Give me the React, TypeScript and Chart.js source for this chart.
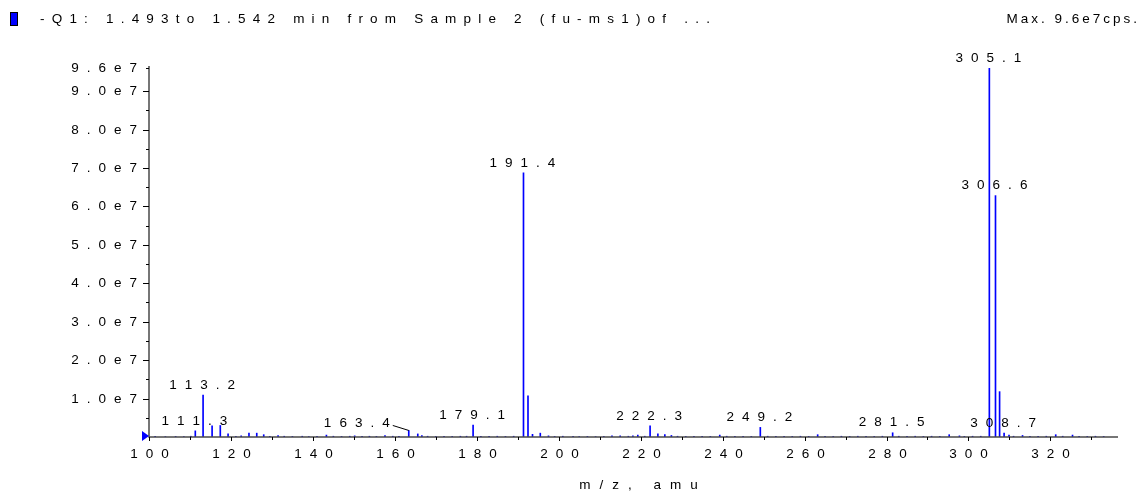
import React, { useEffect, useRef } from "react";
import { Chart, registerables } from "chart.js";

Chart.register(...registerables);

// ---- Data ----
const titleText = "-Q1: 1.493to 1.542 min from Sample 2 (fu-ms1)of ...";
const maxText = "Max. 9.6e7cps.";
const xAxisTitle = "m/z, amu";

// Peak m/z values and intensities (cps)
const peakMz = [
  101.5, 104.0, 106.5, 108.5, 110.2, 111.3, 113.2, 115.4, 117.4, 119.3,
  121.2, 122.5, 124.4, 126.3, 128.0, 129.5, 131.5, 133.0, 135.0, 137.4,
  139.0, 141.0, 143.3, 145.0, 147.0, 149.0, 150.2, 152.0, 153.8, 155.5,
  157.6, 159.5, 161.0, 163.4, 165.6, 166.6, 168.0, 170.0, 172.0, 174.0,
  176.0, 177.5, 179.1, 181.0, 183.0, 185.0, 187.0, 189.0, 191.4, 192.5,
  193.6, 195.5, 197.5, 199.0, 201.0, 203.5, 205.0, 207.0, 209.0, 211.0,
  213.0, 215.0, 217.0, 218.1, 219.3, 221.0, 222.3, 224.2, 225.9, 227.5,
  229.0, 231.0, 233.0, 235.0, 237.0, 239.3, 241.0, 243.0, 245.0, 247.0,
  249.2, 251.0, 253.0, 255.0, 257.0, 259.0, 261.0, 263.2, 265.0, 267.0,
  269.0, 271.0, 273.0, 275.0, 277.0, 279.0, 281.5, 283.0, 285.0, 287.0,
  289.0, 291.0, 293.0, 295.3, 297.8, 299.0, 301.0, 303.0, 305.1, 306.6,
  307.6, 308.7, 309.9, 311.0, 313.2, 315.0, 317.0, 319.0, 321.3, 323.0,
  325.4, 327.0, 329.0, 331.0, 333.0,
];
const peakIntensity = [
  0.02e7, 0.01e7, 0.015e7, 0.01e7, 0.02e7, 0.16e7, 1.09e7, 0.29e7, 0.30e7, 0.08e7,
  0.02e7, 0.03e7, 0.10e7, 0.10e7, 0.06e7, 0.02e7, 0.04e7, 0.02e7, 0.015e7, 0.02e7,
  0.01e7, 0.015e7, 0.05e7, 0.02e7, 0.015e7, 0.02e7, 0.03e7, 0.015e7, 0.02e7, 0.015e7,
  0.04e7, 0.02e7, 0.015e7, 0.17e7, 0.08e7, 0.04e7, 0.02e7, 0.015e7, 0.02e7, 0.015e7,
  0.02e7, 0.02e7, 0.31e7, 0.015e7, 0.02e7, 0.02e7, 0.015e7, 0.02e7, 6.87e7, 1.07e7,
  0.07e7, 0.10e7, 0.03e7, 0.015e7, 0.02e7, 0.015e7, 0.01e7, 0.015e7, 0.01e7, 0.015e7,
  0.03e7, 0.03e7, 0.02e7, 0.03e7, 0.05e7, 0.02e7, 0.29e7, 0.08e7, 0.06e7, 0.04e7,
  0.02e7, 0.015e7, 0.015e7, 0.02e7, 0.015e7, 0.05e7, 0.02e7, 0.015e7, 0.02e7, 0.015e7,
  0.25e7, 0.02e7, 0.015e7, 0.02e7, 0.015e7, 0.02e7, 0.015e7, 0.06e7, 0.02e7, 0.015e7,
  0.02e7, 0.015e7, 0.02e7, 0.015e7, 0.015e7, 0.02e7, 0.11e7, 0.02e7, 0.015e7, 0.02e7,
  0.015e7, 0.02e7, 0.015e7, 0.06e7, 0.03e7, 0.015e7, 0.02e7, 0.02e7, 9.6e7, 6.28e7,
  1.18e7, 0.10e7, 0.05e7, 0.02e7, 0.04e7, 0.02e7, 0.015e7, 0.02e7, 0.06e7, 0.02e7,
  0.05e7, 0.02e7, 0.015e7, 0.02e7, 0.015e7,
];

// Annotated peaks
const labelMz = [111.3, 113.2, 163.4, 179.1, 191.4, 222.3, 249.2, 281.5, 305.1, 306.6, 308.7];
const labelText = ["111.3", "113.2", "163.4", "179.1", "191.4", "222.3", "249.2", "281.5", "305.1", "306.6", "308.7"];

// Axis ticks
const xMin = 100;
const xMax = 336.5;
const xTickValues = [100, 120, 140, 160, 180, 200, 220, 240, 260, 280, 300, 320];
const xMinorTickValues = [110, 130, 150, 170, 190, 210, 230, 250, 270, 290, 310, 330];
const yMax = 9.6e7;
const yTickValues = [1e7, 2e7, 3e7, 4e7, 5e7, 6e7, 7e7, 8e7, 9e7, 9.6e7];
const yTickLabels = ["1.0e7", "2.0e7", "3.0e7", "4.0e7", "5.0e7", "6.0e7", "7.0e7", "8.0e7", "9.0e7", "9.6e7"];
const yMinorTickValues = [0.5e7, 1.5e7, 2.5e7, 3.5e7, 4.5e7, 5.5e7, 6.5e7, 7.5e7, 8.5e7];

const FONT = '13.5px "Liberation Sans", Arial, sans-serif';
const SPACING = 8;

function spacedWidth(ctx: CanvasRenderingContext2D, t: string, s: number) {
  let w = 0;
  for (const ch of t) w += ctx.measureText(ch).width;
  return w + s * (t.length - 1);
}

function drawSpaced(
  ctx: CanvasRenderingContext2D,
  t: string,
  x: number,
  y: number,
  align: "left" | "center" | "right",
  s: number = SPACING
) {
  const w = spacedWidth(ctx, t, s);
  let cx = align === "center" ? x - w / 2 : align === "right" ? x - w : x;
  ctx.textAlign = "left";
  for (const ch of t) {
    ctx.fillText(ch, cx, y);
    cx += ctx.measureText(ch).width + s;
  }
}

const decorPlugin = {
  id: "msDecor",
  afterDatasetsDraw(chart: any) {
    const ctx: CanvasRenderingContext2D = chart.ctx;
    const xs = chart.scales.x;
    const ys = chart.scales.y;
    const area = chart.chartArea;
    ctx.save();
    ctx.font = FONT;
    ctx.fillStyle = "#000";
    ctx.textBaseline = "middle";

    // header
    ctx.fillStyle = "#0000ff";
    ctx.fillRect(10, 12, 8, 14);
    ctx.strokeStyle = "#000";
    ctx.lineWidth = 1;
    ctx.strokeRect(10.5, 12.5, 7, 13);
    ctx.fillStyle = "#000";
    drawSpaced(ctx, titleText, 40, 19, "left", 7.2);
    drawSpaced(ctx, maxText, 1137, 19, "right", 3);

    // axes
    ctx.strokeStyle = "#4a4a4a";
    ctx.lineWidth = 1.5;
    ctx.beginPath();
    ctx.moveTo(area.left, area.top - 2);
    ctx.lineTo(area.left, area.bottom);
    ctx.lineTo(area.right, area.bottom);
    ctx.stroke();

    // y ticks
    ctx.strokeStyle = "#000";
    ctx.lineWidth = 1;
    yTickValues.forEach((v, i) => {
      const py = Math.round(ys.getPixelForValue(v)) + 0.5;
      const len = v === yMax ? 3 : 6;
      ctx.beginPath();
      ctx.moveTo(area.left - len, py);
      ctx.lineTo(area.left, py);
      ctx.stroke();
      drawSpaced(ctx, yTickLabels[i], area.left - 12, py, "right");
    });
    yMinorTickValues.forEach((v) => {
      const py = Math.round(ys.getPixelForValue(v)) + 0.5;
      ctx.beginPath();
      ctx.moveTo(area.left - 3, py);
      ctx.lineTo(area.left, py);
      ctx.stroke();
    });

    // x ticks
    xTickValues.forEach((v) => {
      const px = Math.round(xs.getPixelForValue(v)) + 0.5;
      ctx.beginPath();
      ctx.moveTo(px, area.bottom);
      ctx.lineTo(px, area.bottom + 4);
      ctx.stroke();
      drawSpaced(ctx, String(v), px, area.bottom + 17, "center");
    });
    xMinorTickValues.forEach((v) => {
      const px = Math.round(xs.getPixelForValue(v)) + 0.5;
      ctx.beginPath();
      ctx.moveTo(px, area.bottom);
      ctx.lineTo(px, area.bottom + 3);
      ctx.stroke();
    });
    drawSpaced(ctx, xAxisTitle, (area.left + area.right) / 2 + 5, area.bottom + 48, "center", 9);

    // start marker
    ctx.fillStyle = "#0000ff";
    ctx.beginPath();
    ctx.moveTo(area.left - 7, area.bottom - 6);
    ctx.lineTo(area.left, area.bottom - 1);
    ctx.lineTo(area.left - 7, area.bottom + 4);
    ctx.closePath();
    ctx.fill();

    // peak labels
    ctx.fillStyle = "#000";
    labelMz.forEach((mz, i) => {
      const idx = peakMz.indexOf(mz);
      const px = xs.getPixelForValue(mz);
      const py = ys.getPixelForValue(peakIntensity[idx]);
      if (labelText[i] === "163.4") {
        drawSpaced(ctx, labelText[i], px - 52, py - 7, "center");
        ctx.strokeStyle = "#000";
        ctx.lineWidth = 1;
        ctx.beginPath();
        ctx.moveTo(px - 16, py - 5);
        ctx.lineTo(px, py);
        ctx.stroke();
      } else {
        drawSpaced(ctx, labelText[i], px - 1, py - 10, "center");
      }
    });
    ctx.restore();
  },
};

export default function App() {
  const ref = useRef<HTMLCanvasElement | null>(null);
  useEffect(() => {
    document.body.style.margin = "0";
    const canvas = ref.current!;
    const chart = new Chart(canvas, {
      type: "bar",
      data: {
        datasets: [
          {
            data: peakMz.map((m, i) => ({ x: m, y: peakIntensity[i] })),
            backgroundColor: "#0000ff",
            borderWidth: 0,
            barThickness: 1,
            grouped: false,
          } as any,
        ],
      },
      options: {
        responsive: false,
        animation: false,
        layout: { padding: { left: 149, right: 21, top: 68, bottom: 56 } },
        plugins: { legend: { display: false }, tooltip: { enabled: false } },
        scales: {
          x: { type: "linear", min: xMin, max: xMax, offset: false, display: false },
          y: { type: "linear", min: 0, max: yMax, display: false },
        },
      },
      plugins: [decorPlugin],
    });
    return () => chart.destroy();
  }, []);
  return (
    <div style={{ width: 1139, height: 493, background: "#fff" }}>
      <canvas ref={ref} width={1139} height={493} style={{ display: "block" }} />
    </div>
  );
}
